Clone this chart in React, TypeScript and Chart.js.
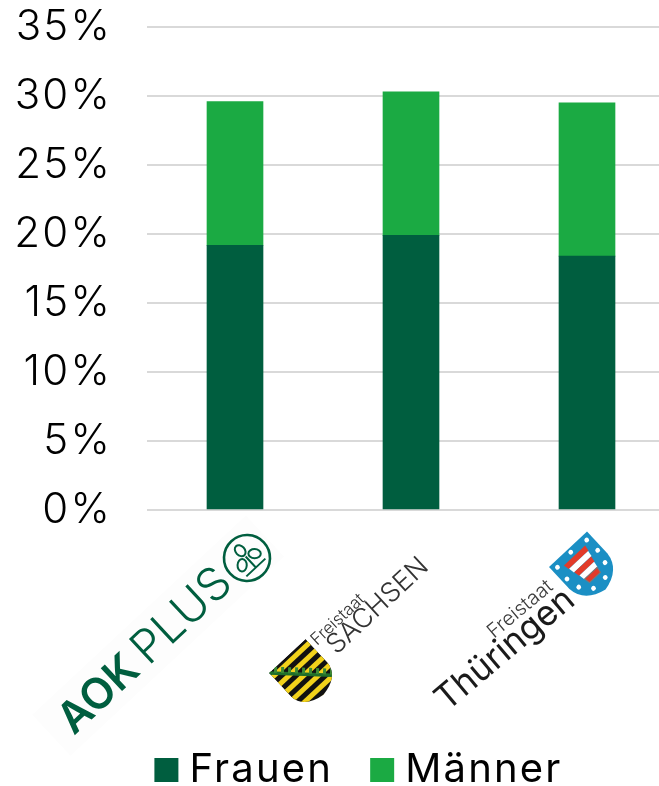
import React, { useEffect, useRef } from "react";
import { Chart, registerables } from "chart.js";

Chart.register(...registerables);

const categories = ["AOK PLUS", "Freistaat Sachsen", "Freistaat Thüringen"];
const frauen = [19.17, 19.9, 18.4];
const maenner = [10.43, 10.4, 11.1];
const yMax = 35;
const yStep = 5;
const seriesNames = ["Frauen", "Männer"];
const seriesColors = ["#005E3F", "#1BAA43"];

const FONT = "Inter";
const ANGLE = (-43 * Math.PI) / 180;
const ANGLE_TH = (-40 * Math.PI) / 180;

function inFrame(ctx: any, x: number, y: number, angle: number, draw: () => void) {
  ctx.save();
  ctx.letterSpacing = "0px";
  ctx.translate(x, y);
  ctx.rotate(angle);
  draw();
  ctx.restore();
}

function text(ctx: CanvasRenderingContext2D, s: string, x: number, y: number, font: string, color: string) {
  ctx.font = font;
  ctx.fillStyle = color;
  ctx.textAlign = "left";
  ctx.textBaseline = "alphabetic";
  ctx.fillText(s, x, y);
}

function drawAok(ctx: CanvasRenderingContext2D, cx: number, base: number) {
  const g = "#005E3F";
  inFrame(ctx, cx - 161, base + 226, ANGLE, () => {
    ctx.fillStyle = "#FDFDFD";
    ctx.fillRect(-16, -44, 292, 56);
    text(ctx, "AOK", 0, 0, `600 43px ${FONT}`, g);
    text(ctx, "PLUS", 102, 0, `300 46px ${FONT}`, g);
  });
  inFrame(ctx, cx + 12, base + 48, ANGLE, () => {
    ctx.strokeStyle = g;
    ctx.lineWidth = 2.6;
    ctx.beginPath();
    ctx.arc(0, 0, 23, 0, Math.PI * 2);
    ctx.stroke();
    ctx.lineWidth = 2;
    ctx.beginPath();
    ctx.moveTo(-13, 13);
    ctx.lineTo(13, 13);
    ctx.moveTo(0, 13);
    ctx.lineTo(0, -2);
    ctx.stroke();
    for (const [x, y, r] of [[-8.5, 2, 0.8], [8.5, 2, -0.8], [0, -10, 0]]) {
      ctx.beginPath();
      ctx.ellipse(x, y, 4.6, 6.2, r, 0, Math.PI * 2);
      ctx.stroke();
    }
  });
}

function drawSachsen(ctx: CanvasRenderingContext2D, cx: number, base: number) {
  const dark = "#333333";
  inFrame(ctx, cx - 142, base + 163, ANGLE, () => {
    ctx.beginPath();
    ctx.moveTo(0, 0);
    ctx.lineTo(50, 0);
    ctx.lineTo(50, 32);
    ctx.quadraticCurveTo(48, 50, 25, 53);
    ctx.quadraticCurveTo(2, 50, 0, 32);
    ctx.closePath();
    ctx.save();
    ctx.clip();
    ctx.fillStyle = "#111111";
    ctx.fillRect(0, 0, 50, 54);
    ctx.fillStyle = "#F2D21B";
    for (let y = 3; y < 54; y += 10) ctx.fillRect(0, y, 50, 5);
    ctx.strokeStyle = "#1F6E2A";
    ctx.lineWidth = 3.5;
    ctx.beginPath();
    ctx.moveTo(0, 0);
    ctx.lineTo(50, 50);
    ctx.stroke();
    ctx.setLineDash([3, 4]);
    ctx.lineWidth = 6;
    ctx.strokeStyle = "#3C8A34";
    ctx.beginPath();
    ctx.moveTo(6, 1);
    ctx.lineTo(50, 45);
    ctx.stroke();
    ctx.restore();
  });
  inFrame(ctx, cx - 73, base + 144, ANGLE, () => {
    text(ctx, "SACHSEN", -2, 0, `300 27px ${FONT}`, dark);
  });
  inFrame(ctx, cx - 94, base + 136, ANGLE, () => {
    text(ctx, "Freistaat", 0, 0, `300 17px ${FONT}`, dark);
  });
}

function drawThueringen(ctx: CanvasRenderingContext2D, cx: number, base: number) {
  const dark = "#1A1A1A";
  inFrame(ctx, cx - 140, base + 202, ANGLE_TH, () => {
    text(ctx, "Thüringen", 0, 0, `400 35px ${FONT}`, dark);
  });
  inFrame(ctx, cx - 93, base + 129, ANGLE_TH, () => {
    text(ctx, "Freistaat", 0, 0, `300 20px ${FONT}`, "#3C3C3C");
  });
  inFrame(ctx, cx - 38, base + 57, ANGLE, () => {
    ctx.beginPath();
    ctx.moveTo(0, 0);
    ctx.lineTo(52, 0);
    ctx.lineTo(52, 30);
    ctx.quadraticCurveTo(50, 50, 26, 55);
    ctx.quadraticCurveTo(2, 50, 0, 30);
    ctx.closePath();
    ctx.fillStyle = "#1B8FC4";
    ctx.fill();
    ctx.save();
    ctx.clip();
    ctx.fillStyle = "#FFFFFF";
    for (const [x, y] of [[6, 6], [46, 6], [5, 21], [47, 21], [8, 35], [44, 35], [18, 46], [34, 46], [26, 4]]) {
      ctx.beginPath();
      ctx.arc(x, y, 2.4, 0, Math.PI * 2);
      ctx.fill();
    }
    for (let i = 0; i < 5; i++) {
      ctx.fillStyle = i % 2 ? "#FFFFFF" : "#E23B2A";
      ctx.beginPath();
      ctx.moveTo(12 + i * 1.5, 9 + i * 6);
      ctx.lineTo(41 - i * 1.5, 9 + i * 6);
      ctx.lineTo(40 - i * 1.5, 15 + i * 6);
      ctx.lineTo(13 + i * 1.5, 15 + i * 6);
      ctx.closePath();
      ctx.fill();
    }
    ctx.restore();
    ctx.strokeStyle = "#7A7A7A";
    ctx.lineWidth = 1;
    ctx.stroke();
  });
}

const logoPlugin = {
  id: "logos",
  afterDraw(chart: any) {
    const { ctx, scales, chartArea } = chart;
    const x = scales.x;
    const base = chartArea.bottom;
    drawAok(ctx, x.getPixelForValue(0), base);
    drawSachsen(ctx, x.getPixelForValue(1), base);
    drawThueringen(ctx, x.getPixelForValue(2), base);
  },
};

const spacingPlugin = {
  id: "textSpacing",
  beforeLayout(chart: any) {
    chart.ctx.letterSpacing = "2.2px";
  },
  beforeDraw(chart: any) {
    chart.ctx.letterSpacing = "2.2px";
  },
};

export default function App() {
  const ref = useRef<HTMLCanvasElement>(null);
  useEffect(() => {
    if (!ref.current) return;
    const chart = new Chart(ref.current, {
      type: "bar",
      data: {
        labels: categories,
        datasets: [
          { label: seriesNames[0], data: frauen, backgroundColor: seriesColors[0], barThickness: 56 },
          { label: seriesNames[1], data: maenner, backgroundColor: seriesColors[1], barThickness: 56 },
        ],
      },
      plugins: [logoPlugin, spacingPlugin],
      options: {
        responsive: false,
        animation: false,
        layout: { padding: { top: 27, right: 0, left: 0, bottom: 0 } },
        scales: {
          x: {
            stacked: true,
            grid: { display: false },
            border: { display: false },
            ticks: { display: false },
            afterFit(s: any) {
              s.height = 194;
              s.paddingLeft = s.paddingRight = 0;
            },
          },
          y: {
            stacked: true,
            min: 0,
            max: yMax,
            border: { display: false },
            grid: { color: "#D9D9D9", lineWidth: 2, drawTicks: false },
            ticks: {
              stepSize: yStep,
              padding: 35,
              color: "#000000",
              font: { family: FONT, size: 42, weight: "300" },
              callback: (v: any) => `${v}%`,
            },
            afterFit(s: any) {
              s.width = 147;
              s.paddingTop = s.paddingBottom = 0;
            },
          },
          spacer: {
            type: "linear",
            position: "right",
            display: true,
            border: { display: false },
            grid: { display: false },
            ticks: { display: false },
            afterFit(s: any) {
              s.width = 51;
              s.paddingTop = s.paddingBottom = 0;
            },
          },
        },
        plugins: {
          tooltip: { enabled: false },
          legend: {
            position: "bottom",
            labels: {
              boxWidth: 6,
              boxHeight: 6,
              padding: 46,
              color: "#000000",
              font: { family: FONT, size: 40, weight: "400" },
              generateLabels: () =>
                seriesNames.map((n, i) => ({
                  text: n,
                  fillStyle: seriesColors[i],
                  strokeStyle: seriesColors[i],
                  lineWidth: 18,
                  datasetIndex: i,
                })),
            },
          },
        },
      } as any,
    });
    return () => chart.destroy();
  }, []);
  return (
    <div style={{ position: "fixed", left: 0, top: 0, width: 659, height: 786, overflow: "hidden" }}>
      <canvas ref={ref} width={726} height={800} style={{ display: "block" }} />
    </div>
  );
}
